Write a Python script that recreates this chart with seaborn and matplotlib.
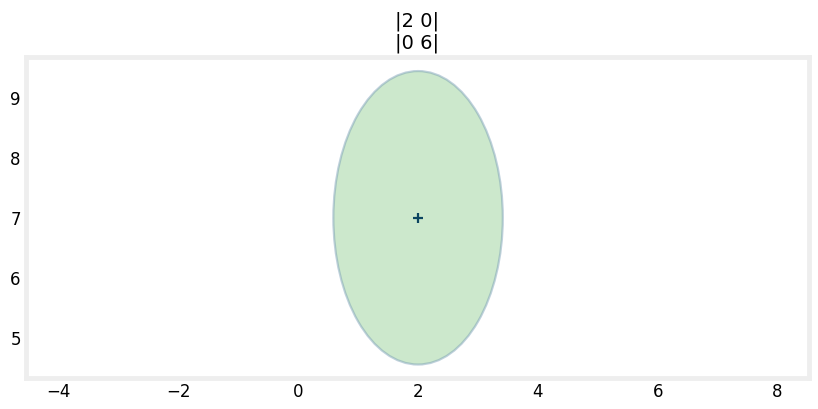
import numpy as np
import pandas as pd
import matplotlib
matplotlib.use("Agg")
import matplotlib.pyplot as plt
from matplotlib.patches import Ellipse
import seaborn as sns

# -----------------------------
# Data
# -----------------------------
mean = [2, 7]
cov = [[2, 0], [0, 6]]
x_ticks = [-4, -2, 0, 2, 4, 6, 8]
y_ticks = [5, 6, 7, 8, 9]


def cov_title(c):
    return "\n".join("|" + " ".join(str(v) for v in row) + "|" for row in c)


def main():
    sns.set_style("white")
    plt.rcParams["font.family"] = ["DejaVu Sans"]
    plt.rcParams["text.color"] = "black"
    plt.rcParams["xtick.color"] = "black"
    plt.rcParams["ytick.color"] = "black"

    fig, ax = plt.subplots(figsize=(8.18, 4.09), dpi=100)

    vals, vecs = np.linalg.eigh(np.array(cov, dtype=float))
    angle = np.degrees(np.arctan2(vecs[1, -1], vecs[0, -1]))
    w, h = 2 * np.sqrt(vals[-1]), 2 * np.sqrt(vals[0])
    ell = Ellipse(xy=mean, width=w, height=h, angle=angle,
                  facecolor=(0.17, 0.63, 0.17, 0.24),
                  edgecolor=(0.45, 0.6, 0.7, 0.45), linewidth=1.6)
    ax.add_patch(ell)

    df = pd.DataFrame({"x": [mean[0]], "y": [mean[1]]})
    sns.scatterplot(data=df, x="x", y="y", marker="+", color="#0b4560",
                    s=45, linewidth=1.6, ax=ax)

    ax.set_xlim(-4.55, 8.52)
    ax.set_ylim(4.32, 9.68)
    ax.set_aspect("equal")
    ax.set_xticks(x_ticks)
    ax.set_yticks(y_ticks)
    ax.set_xlabel("")
    ax.set_ylabel("")
    ax.tick_params(labelsize=12, length=0)
    for sp in ax.spines.values():
        sp.set_color("#eeeeee")
        sp.set_linewidth(3.5)
    ax.set_title(cov_title(cov), fontsize=14)

    fig.subplots_adjust(left=0.03, right=0.99, top=0.86, bottom=0.075)
    fig.savefig("out.png")
    plt.close(fig)


if __name__ == "__main__":
    main()
